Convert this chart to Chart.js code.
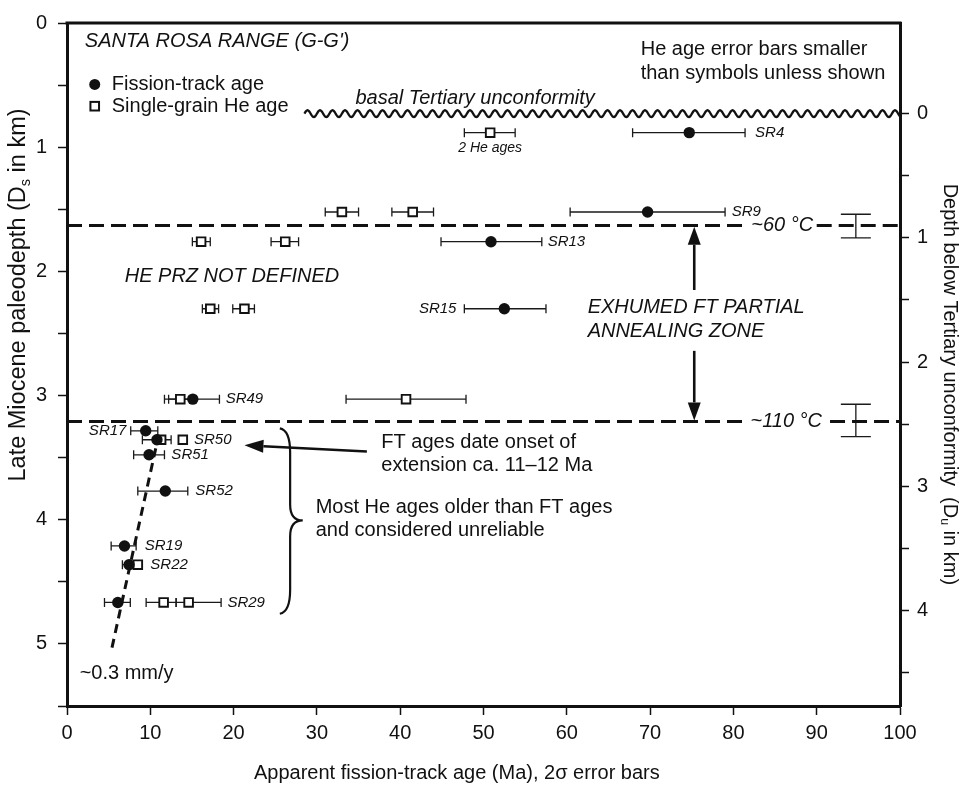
<!DOCTYPE html>
<html>
<head>
<meta charset="utf-8">
<script src="https://cdn.jsdelivr.net/npm/chart.js@4.4.0/dist/chart.umd.min.js"></script>
<style>
  html, body { margin: 0; padding: 0; background: #fff; }
  #wrap { width: 963px; height: 786px; }
</style>
</head>
<body>
<div id="wrap"><canvas id="chart" width="963" height="786"></canvas></div>
<script>
(function () {
  'use strict';

  const FONT = "'Liberation Sans', Arial, Helvetica, sans-serif";

  // fission-track ages (Ma), 2-sigma limits, late Miocene paleodepth Ds (km)
  const ftSample = ['SR4', 'SR9', 'SR13', 'SR15', 'SR49', 'SR17', 'SR50', 'SR51', 'SR52', 'SR19', 'SR22', 'SR29'];
  const ftAge   = [74.7, 69.7, 50.9, 52.5, 15.1, 9.45, 10.8, 9.85, 11.8, 6.9, 7.45, 6.1];
  const ftLow   = [67.9, 60.4, 44.9, 47.7, 12.2, 7.65, 9.05, 8.0, 8.5, 5.3, 6.65, 4.5];
  const ftHigh  = [81.4, 79.0, 57.0, 57.5, 18.3, 10.9, 12.5, 11.7, 14.5, 8.3, 8.4, 7.6];
  const ftDepth = [0.883, 1.522, 1.761, 2.301, 3.029, 3.284, 3.356, 3.477, 3.769, 4.211, 4.362, 4.666];

  // single-grain He ages (Ma), limits where shown
  const heAge   = [50.8, 33.0, 41.5, 16.1, 26.2, 17.2, 21.3, 13.6, 40.7, 11.3, 13.9, 8.5, 11.6, 14.6];
  const heLow   = [47.7, 31.0, 39.0, 15.05, 24.5, 16.25, 19.9, 11.7, 33.5, null, null, null, 9.5, 13.1];
  const heHigh  = [53.8, 35.0, 44.0, 17.2, 27.8, 18.2, 22.5, 15.0, 47.9, null, null, null, 13.1, 18.5];
  const heDepth = [0.883, 1.522, 1.522, 1.761, 1.761, 2.301, 2.301, 3.029, 3.029, 3.356, 3.356, 4.362, 4.666, 4.666];

  // isotherms (Ds), their label gaps (Ma) and depth uncertainty
  const isoDepth    = [1.63, 3.21];
  const isoLabel    = ['~60 °C', '~110 °C'];
  const isoGapStart = [81.6, 81.5];
  const isoGapEnd   = [90.0, 91.6];
  const isoErrLow   = [1.54, 3.07];
  const isoErrHigh  = [1.73, 3.33];
  const isoErrAge   = 94.7;

  // exhumation rate line (~0.3 mm/y)
  const rateAge   = [5.4, 11.0];
  const rateDepth = [5.03, 3.32];

  // basal Tertiary unconformity
  const unconfDepth = 0.73;
  const unconfStart = 28.5;

  const xTicks  = [0, 10, 20, 30, 40, 50, 60, 70, 80, 90, 100];
  const dsTicks = [0, 0.5, 1, 1.5, 2, 2.5, 3, 3.5, 4, 4.5, 5, 5.5];
  const duTicks = [0, 0.5, 1, 1.5, 2, 2.5, 3, 3.5, 4, 4.5];

  // sample label anchors (Ma)
  const labelX     = [82.6, 79.8, 57.7, 46.75, 19.05, 7.13, 15.25, 12.53, 15.41, 9.33, 10.0, 19.26];
  const labelRight = ['SR15', 'SR17'];

  const notes = [
    { t: "SANTA ROSA RANGE (G-G')", x: 2.14, y: 0.152, italic: true },
    { t: 'He age error bars smaller', x: 68.87, y: 0.215 },
    { t: 'than symbols unless shown', x: 68.87, y: 0.407 },
    { t: 'basal Tertiary unconformity', x: 49.0, y: 0.607, italic: true, align: 'center' },
    { t: '2 He ages', x: 50.8, y: 1.01, italic: true, size: 14, align: 'center' },
    { t: 'HE PRZ NOT DEFINED', x: 6.93, y: 2.04, italic: true },
    { t: 'EXHUMED FT PARTIAL', x: 62.5, y: 2.29, italic: true },
    { t: 'ANNEALING ZONE', x: 62.5, y: 2.48, italic: true },
    { t: 'FT ages date onset of', x: 37.74, y: 3.38 },
    { t: 'extension ca. 11\u201312 Ma', x: 37.74, y: 3.56 },
    { t: 'Most He ages older than FT ages', x: 29.85, y: 3.90 },
    { t: 'and considered unreliable', x: 29.85, y: 4.09 },
    { t: '~0.3 mm/y', x: 1.52, y: 5.24 }
  ];

  function isoSegments(i) {
    return [
      { x: 0, y: isoDepth[i] },
      { x: isoGapStart[i], y: isoDepth[i] },
      { x: (isoGapStart[i] + isoGapEnd[i]) / 2, y: null },
      { x: isoGapEnd[i], y: isoDepth[i] },
      { x: 100, y: isoDepth[i] }
    ];
  }

  function arrow(ctx, x1, y1, x2, y2, len, half) {
    const a = Math.atan2(y2 - y1, x2 - x1);
    const bx = x2 - len * Math.cos(a), by = y2 - len * Math.sin(a);
    ctx.beginPath();
    ctx.moveTo(x1, y1);
    ctx.lineTo(bx, by);
    ctx.stroke();
    ctx.beginPath();
    ctx.moveTo(x2, y2);
    ctx.lineTo(bx + half * Math.sin(a), by - half * Math.cos(a));
    ctx.lineTo(bx - half * Math.sin(a), by + half * Math.cos(a));
    ctx.closePath();
    ctx.fill();
  }

  function subText(ctx, parts, x, y, size) {
    let w = 0;
    parts.forEach(p => {
      ctx.font = (p.sub ? size * 0.62 : size) + 'px ' + FONT;
      w += ctx.measureText(p.t).width;
    });
    let cx = x - w / 2;
    ctx.textAlign = 'left';
    parts.forEach(p => {
      ctx.font = (p.sub ? size * 0.62 : size) + 'px ' + FONT;
      ctx.fillText(p.t, cx, p.sub ? y + size * 0.28 : y);
      cx += ctx.measureText(p.t).width;
    });
  }

  const errorBars = {
    id: 'errorBars',
    beforeDatasetsDraw(chart) {
      const ctx = chart.ctx;
      const X = v => chart.scales.x.getPixelForValue(v);
      const Y = v => chart.scales.y.getPixelForValue(v);
      const hbar = (lo, hi, d) => {
        const y = Y(d), x1 = X(lo), x2 = X(hi);
        ctx.beginPath();
        ctx.moveTo(x1, y); ctx.lineTo(x2, y);
        ctx.moveTo(x1, y - 4.5); ctx.lineTo(x1, y + 4.5);
        ctx.moveTo(x2, y - 4.5); ctx.lineTo(x2, y + 4.5);
        ctx.stroke();
      };
      ctx.save();
      ctx.strokeStyle = '#1a1a1a';
      ctx.lineWidth = 1.3;
      ftAge.forEach((a, i) => hbar(ftLow[i], ftHigh[i], ftDepth[i]));
      heAge.forEach((a, i) => { if (heLow[i] != null) hbar(heLow[i], heHigh[i], heDepth[i]); });
      isoDepth.forEach((d, i) => {
        const x = X(isoErrAge), y1 = Y(isoErrLow[i]), y2 = Y(isoErrHigh[i]);
        ctx.beginPath();
        ctx.moveTo(x, y1); ctx.lineTo(x, y2);
        ctx.moveTo(x - 15, y1); ctx.lineTo(x + 15, y1);
        ctx.moveTo(x - 15, y2); ctx.lineTo(x + 15, y2);
        ctx.stroke();
      });
      ctx.restore();
    },
    afterDraw(chart) {
      const ctx = chart.ctx, area = chart.chartArea;
      const X = v => chart.scales.x.getPixelForValue(v);
      const Y = v => chart.scales.y.getPixelForValue(v);
      ctx.save();
      ctx.fillStyle = '#111';
      ctx.strokeStyle = '#111';

      // top frame
      ctx.lineWidth = 3;
      ctx.beginPath();
      ctx.moveTo(area.left - 1.5, area.top); ctx.lineTo(area.right + 1.5, area.top);
      ctx.stroke();

      // unconformity
      ctx.lineWidth = 2.3;
      ctx.beginPath();
      const x0 = X(unconfStart), x1 = X(100), yu = Y(unconfDepth);
      for (let x = x0; x <= x1; x += 0.5) {
        const yy = yu - 3.4 * Math.sin((x - x0) / 12.5 * 2 * Math.PI);
        if (x === x0) ctx.moveTo(x, yy); else ctx.lineTo(x, yy);
      }
      ctx.stroke();

      ctx.textBaseline = 'middle';
      // sample labels
      ctx.font = 'italic 15px ' + FONT;
      ftSample.forEach((s, i) => {
        ctx.textAlign = labelRight.includes(s) ? 'right' : 'left';
        ctx.fillText(s, X(labelX[i]), Y(ftDepth[i]));
      });

      // notes
      notes.forEach(n => {
        ctx.font = (n.italic ? 'italic ' : '') + (n.size || 20) + 'px ' + FONT;
        ctx.textAlign = n.align || 'left';
        ctx.fillText(n.t, X(n.x), Y(n.y));
      });

      // isotherm labels
      ctx.font = 'italic 20px ' + FONT;
      ctx.textAlign = 'left';
      isoLabel.forEach((t, i) => ctx.fillText(t, X(isoGapStart[i] + 0.55), Y(isoDepth[i])));

      // legend
      ctx.font = '20px ' + FONT;
      ctx.beginPath();
      ctx.arc(X(3.33), Y(0.495), 5.5, 0, Math.PI * 2);
      ctx.fill();
      ctx.lineWidth = 2;
      ctx.strokeRect(X(3.33) - 4.3, Y(0.67) - 4.3, 8.6, 8.6);
      ctx.fillText('Fission-track age', X(5.37), Y(0.495));
      ctx.fillText('Single-grain He age', X(5.37), Y(0.67));

      // arrows
      ctx.lineWidth = 2.6;
      arrow(ctx, X(75.3), Y(2.15), X(75.3), Y(1.64), 18, 6.5);
      arrow(ctx, X(75.3), Y(2.64), X(75.3), Y(3.2), 18, 6.5);
      ctx.lineWidth = 2.4;
      arrow(ctx, X(36.0), Y(3.45), X(21.3), Y(3.40), 19, 6.5);

      // brace
      const bl = X(25.55), bt = X(28.3), bc = bl + (bt - bl) * 0.45;
      const yT = Y(3.265), yM = Y(4.006), yB = Y(4.757);
      ctx.lineWidth = 2.2;
      ctx.beginPath();
      ctx.moveTo(bl, yT);
      ctx.quadraticCurveTo(bc, yT + 2, bc, yT + 24);
      ctx.lineTo(bc, yM - 16);
      ctx.quadraticCurveTo(bc, yM, bt, yM);
      ctx.quadraticCurveTo(bc, yM, bc, yM + 16);
      ctx.lineTo(bc, yB - 24);
      ctx.quadraticCurveTo(bc, yB - 2, bl, yB);
      ctx.stroke();

      // axis titles
      ctx.textAlign = 'center';
      ctx.font = '20px ' + FONT;
      ctx.fillText('Apparent fission-track age (Ma), 2\u03c3 error bars', X(46.8), area.bottom + 67);

      ctx.save();
      ctx.translate(19, Y(2.19));
      ctx.rotate(-Math.PI / 2);
      subText(ctx, [{ t: 'Late Miocene paleodepth (D' }, { t: 's', sub: true }, { t: ' in km)' }], 0, 0, 23.5);
      ctx.restore();

      ctx.save();
      ctx.translate(area.right + 50, Y(2.91));
      ctx.rotate(Math.PI / 2);
      subText(ctx, [{ t: 'Depth below Tertiary unconformity  (D' }, { t: 'u', sub: true }, { t: ' in km)' }], 0, 0, 20);
      ctx.restore();

      ctx.restore();
    }
  };

  const axisStyle = {
    grid: { drawOnChartArea: false, drawTicks: true, tickLength: 9, tickWidth: 1.5, tickColor: '#111' },
    border: { display: true, color: '#111', width: 3 }
  };
  const tickLabel = v => Number.isInteger(v) ? String(v) : '';

  new Chart(document.getElementById('chart'), {
    type: 'scatter',
    data: {
      datasets: [
        {
          label: 'Fission-track age',
          data: ftAge.map((a, i) => ({ x: a, y: ftDepth[i] })),
          pointStyle: 'circle',
          pointRadius: 5.7,
          backgroundColor: '#111',
          borderColor: '#111',
          borderWidth: 0
        },
        {
          label: 'Single-grain He age',
          data: heAge.map((a, i) => ({ x: a, y: heDepth[i] })),
          pointStyle: 'rect',
          pointRadius: 6.1,
          backgroundColor: '#fff',
          borderColor: '#111',
          borderWidth: 1.9
        },
        {
          type: 'line',
          label: '60 C',
          data: isoSegments(0),
          borderColor: '#111',
          borderWidth: 3,
          borderDash: [15, 7],
          pointRadius: 0,
          spanGaps: false
        },
        {
          type: 'line',
          label: '110 C',
          data: isoSegments(1),
          borderColor: '#111',
          borderWidth: 3,
          borderDash: [15, 7],
          pointRadius: 0,
          spanGaps: false
        },
        {
          type: 'line',
          label: 'rate',
          data: rateAge.map((a, i) => ({ x: a, y: rateDepth[i] })),
          borderColor: '#111',
          borderWidth: 3,
          borderDash: [9, 6],
          pointRadius: 0
        }
      ]
    },
    options: {
      responsive: false,
      animation: false,
      devicePixelRatio: 1,
      layout: { padding: { top: 16, left: 0, right: 0, bottom: 0 } },
      plugins: { legend: { display: false }, tooltip: { enabled: false } },
      scales: {
        x: Object.assign({
          type: 'linear', min: 0, max: 100,
          afterFit: s => { s.height = 80; },
          afterBuildTicks: s => { s.ticks = xTicks.map(v => ({ value: v })); },
          ticks: { color: '#111', padding: 6, font: { family: FONT, size: 20 } }
        }, axisStyle),
        y: Object.assign({
          type: 'linear', min: 0, max: 5.5, reverse: true, position: 'left',
          afterFit: s => { s.width = 67; },
          afterBuildTicks: s => { s.ticks = dsTicks.map(v => ({ value: v })); },
          ticks: { color: '#111', padding: 11, font: { family: FONT, size: 20 }, callback: tickLabel }
        }, axisStyle),
        y2: Object.assign({
          type: 'linear', min: -unconfDepth, max: 5.5 - unconfDepth, reverse: true, position: 'right',
          afterFit: s => { s.width = 63; },
          afterBuildTicks: s => { s.ticks = duTicks.map(v => ({ value: v })); },
          ticks: { color: '#111', padding: 8, font: { family: FONT, size: 20 }, callback: tickLabel }
        }, axisStyle)
      }
    },
    plugins: [errorBars]
  });
})();
</script>
</body>
</html>
